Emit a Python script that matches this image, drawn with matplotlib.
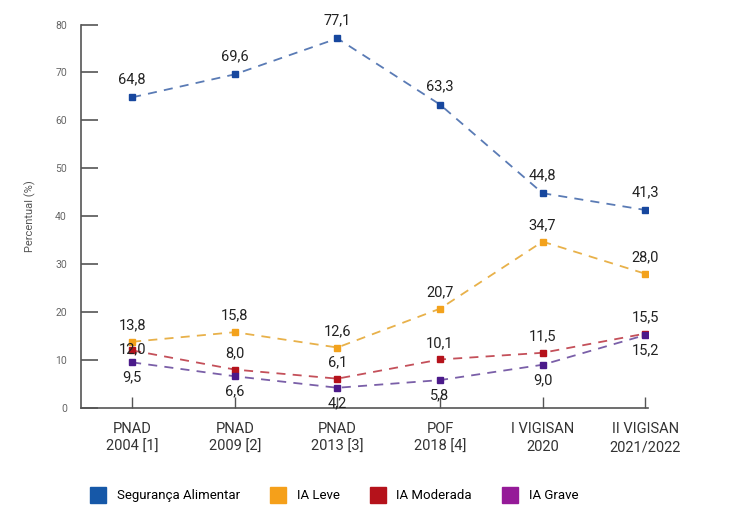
import numpy as np
import matplotlib.pyplot as plt

plt.rcParams['font.family'] = ['Roboto', 'DejaVu Sans']

surveys = ["PNAD\n2004 [1]", "PNAD\n2009 [2]", "PNAD\n2013 [3]", "POF\n2018 [4]",
           "I VIGISAN\n2020", "II VIGISAN\n2021/2022"]
seg_alimentar = [64.8, 69.6, 77.1, 63.3, 44.8, 41.3]
ia_leve = [13.8, 15.8, 12.6, 20.7, 34.7, 28.0]
ia_moderada = [12.0, 8.0, 6.1, 10.1, 11.5, 15.5]
ia_grave = [9.5, 6.6, 4.2, 5.8, 9.0, 15.2]

# name, values, marker colour, line colour, legend colour, label offset
series = [
    ("Segurança Alimentar", seg_alimentar, "#17479e", "#5a7bb5", "#1658a8", 13),
    ("IA Leve", ia_leve, "#f3a21c", "#e8b14a", "#f5a01a", 12),
    ("IA Moderada", ia_moderada, "#b5121b", "#c4505a", "#b5121b", 12),
    ("IA Grave", ia_grave, "#4b1a8a", "#7a5fa8", "#951a98", -11),
]

x = np.arange(len(surveys))

fig = plt.figure(figsize=(7.35, 5.27), dpi=100)
ax = fig.add_axes([0.110, 0.226, 0.772, 0.7275])

for name, vals, mc, lc, _, dy in series:
    ax.plot(x, vals, linestyle=(0, (5, 4)), color=lc, lw=1.3, zorder=2)
    ax.plot(x, vals, linestyle="none", marker="s", markersize=5, color=mc, zorder=3)
    for i, v in enumerate(vals):
        off = dy
        if name == "IA Moderada" and i == 0:
            off = 1
        ax.annotate(f"{v:.1f}".replace(".", ","), (x[i], v), xytext=(0, off),
                    textcoords="offset points", ha="center", va="center",
                    fontsize=10.5, color="#222222", zorder=4)

ax.set_xlim(-0.5, 5.03)
ax.set_ylim(0, 80)
ax.set_yticks(np.arange(0, 81, 10))
ax.set_xticks(x)
ax.set_xticklabels(surveys, fontsize=10.5, color="#333333", linespacing=1.4)
ax.tick_params(axis="y", direction="in", length=12, width=1.2, color="#555555",
               labelsize=7.5, labelcolor="#666666", pad=10)
ax.tick_params(axis="x", direction="in", length=8, width=1, color="#555555", pad=10)
for s in ["top", "right"]:
    ax.spines[s].set_visible(False)
for s in ["left", "bottom"]:
    ax.spines[s].set_color("#555555")
    ax.spines[s].set_linewidth(1.2)
ax.set_ylabel("Percentual (%)", fontsize=8, color="#555555", labelpad=14)

handles = [plt.Line2D([], [], marker="s", linestyle="none", markersize=11, color=s[4])
           for s in series]
fig.legend(handles, [s[0] for s in series], loc="center", bbox_to_anchor=(0.455, 0.059),
           ncol=4, frameon=False, fontsize=9.5, handlelength=1.2, handletextpad=0.8,
           columnspacing=2.3)

fig.savefig("out.png", dpi=100)
